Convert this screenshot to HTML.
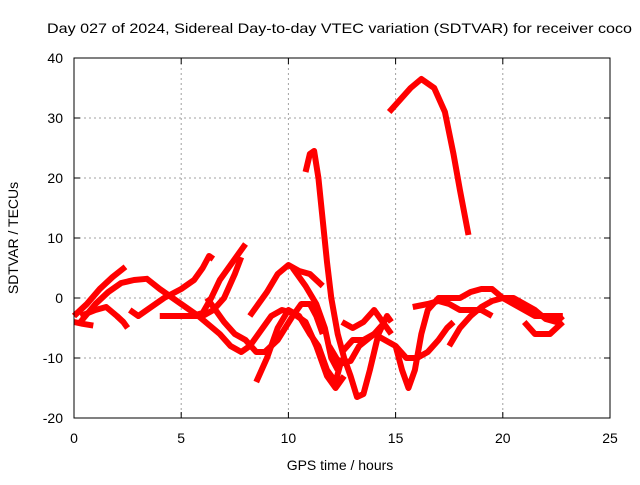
<!DOCTYPE html>
<html><head><meta charset="utf-8"><style>
body{margin:0;background:#fff;}
svg text{font-family:"Liberation Sans",sans-serif;font-size:14px;fill:#000;}
</style></head><body>
<svg id="chart" width="640" height="480">
<text x="47" y="33" textLength="585" lengthAdjust="spacingAndGlyphs">Day 027 of 2024, Sidereal Day-to-day VTEC variation (SDTVAR) for receiver coco</text>
<g id="grid"></g>
<g id="series"></g>
<rect x="74" y="58" width="536" height="360" fill="none" stroke="#000" stroke-width="1"/>
<g id="axes"></g>
<text x="340" y="470" text-anchor="middle">GPS time / hours</text>
<text transform="translate(18,238) rotate(-90)" text-anchor="middle">SDTVAR / TECUs</text>
</svg>
<script>
const xTicks=[0,5,10,15,20,25];
const yTicks=[-20,-10,0,10,20,30,40];
const track1=[[0,-3],[0.6,-1],[1.2,1.5],[1.8,3.5],[2.4,5.2]];
const track2=[[0.3,-4],[1,-1],[1.6,1],[2.2,2.5],[2.8,3],[3.4,3.2],[4,1.5],[4.6,0],[5.2,-1.5],[5.8,-3],[6.3,-4.5],[6.8,-6],[7.3,-8],[7.8,-9],[8.2,-8],[8.8,-5],[9.2,-3],[9.7,-2],[10.2,-2.5],[10.8,-4],[11.3,-8],[11.8,-13],[12.2,-15],[12.6,-13]];
const track3=[[0,-4],[0.4,-4.3],[0.9,-4.6]];
const track4=[[0.3,-3],[1,-2],[1.5,-1.5],[2,-3],[2.3,-4],[2.5,-5]];
const track5=[[2.6,-2],[3,-3],[3.6,-1.5],[4.2,0],[5,1.5],[5.6,3],[6,5],[6.3,7],[6.5,6.5]];
const track6=[[4,-3],[5,-3],[6,-3],[6.5,-2],[7,0],[7.5,4],[7.8,6.8]];
const track7=[[5.5,-3],[6,-2.5],[6.4,0],[6.8,3],[7.2,5],[7.6,7],[8,9]];
const track8=[[6.2,0],[6.5,-1.5],[7,-4],[7.5,-6],[8,-7],[8.5,-9],[8.9,-9],[9.5,-7],[10.2,-3],[10.6,-1],[11,-1],[11.3,-3],[11.6,-6]];
const track9=[[8.2,-3],[8.6,-1],[9,1],[9.5,4],[10,5.5],[10.5,4.5],[11,4],[11.6,2]];
const track10=[[10.2,5],[10.8,2],[11.3,-1],[11.7,-5],[12,-10],[12.3,-12]];
const track11=[[8.5,-14],[9,-10],[9.5,-5],[10,-2],[10.5,-3],[11,-6],[11.4,-8],[11.8,-12],[12.2,-14],[12.5,-10]];
const track12=[[10.8,21],[11,24],[11.2,24.5],[11.4,20],[11.6,13],[11.8,6],[12,0],[12.3,-6],[12.6,-10],[12.9,-13],[13.2,-16.5],[13.5,-16],[13.8,-12],[14.2,-6],[14.6,-3],[14.8,-4]];
const track13=[[14.7,31],[15.2,33],[15.7,35],[16.2,36.5],[16.8,35],[17.3,31],[17.7,24],[18,18],[18.4,10.5]];
const track14=[[12.5,-9],[13,-7],[13.5,-7],[14,-6],[14.5,-7],[15,-8],[15.3,-12],[15.6,-15],[15.9,-12],[16.2,-6],[16.5,-2],[17,0],[17.5,0],[18,0],[18.5,1],[19,1.5],[19.5,1.5],[20,0],[20.5,-1],[21,-2],[21.5,-3],[22,-3],[22.5,-3],[22.8,-3]];
const track15=[[15,-8],[15.5,-10],[16,-10],[16.5,-9],[17,-7],[17.4,-5],[17.7,-4]];
const track16=[[17.5,-8],[18,-5],[18.5,-3],[19,-1.5],[19.5,-0.5],[20,0],[20.5,0],[21,-1],[21.5,-2],[22,-3.5],[22.5,-4],[22.8,-3]];
const track17=[[15.8,-1.5],[16.5,-1],[17,-0.5],[17.5,-1],[18,-2],[18.5,-2],[19,-2],[19.5,-3]];
const track18=[[21,-4],[21.5,-6],[22.2,-6],[22.8,-4]];
const track19=[[12.5,-4],[13,-5],[13.5,-4],[14,-2],[14.4,-4],[14.8,-6]];
const track20=[[11.9,-8],[12.4,-11],[12.9,-10.5],[13.3,-8],[14,-6],[14.5,-4]];
const tracks=[track1,track2,track3,track4,track5,track6,track7,track8,track9,track10,track11,track12,track13,track14,track15,track16,track17,track18,track19,track20];
const NS="http://www.w3.org/2000/svg";
const X0=74,X1=610,Y0=418,Y1=58;
function xs(v){return X0+(v-0)/25*(X1-X0);}
function ys(v){return Y0-(v+20)/60*(Y0-Y1);}
const grid=document.getElementById('grid'),axes=document.getElementById('axes'),ser=document.getElementById('series');
xTicks.forEach(t=>{
  const x=xs(t);
  if(t>0&&t<25){const l=document.createElementNS(NS,'line');
  
  
  l.setAttribute('x1',x);l.setAttribute('x2',x);l.setAttribute('y1',Y1);l.setAttribute('y2',Y0);
  l.setAttribute('stroke','#a0a0a0');l.setAttribute('stroke-dasharray','2,3');grid.appendChild(l);}
  const tk=document.createElementNS(NS,'path');
  
  
  tk.setAttribute('d',`M${x},${Y0}v-6M${x},${Y1}v6`);tk.setAttribute('stroke','#000');axes.appendChild(tk);
  const tx=document.createElementNS(NS,'text');
  
  
  tx.setAttribute('x',x);tx.setAttribute('y',443);tx.setAttribute('text-anchor','middle');tx.textContent=t;axes.appendChild(tx);
});
yTicks.forEach(t=>{
  const y=ys(t);
  if(t>-20&&t<40){const l=document.createElementNS(NS,'line');
  
  
  l.setAttribute('x1',X0);l.setAttribute('x2',X1);l.setAttribute('y1',y);l.setAttribute('y2',y);
  l.setAttribute('stroke','#a0a0a0');l.setAttribute('stroke-dasharray','2,3');grid.appendChild(l);}
  const tk=document.createElementNS(NS,'path');
  
  
  tk.setAttribute('d',`M${X0},${y}h6M${X1},${y}h-6`);tk.setAttribute('stroke','#000');axes.appendChild(tk);
  const tx=document.createElementNS(NS,'text');
  
  
  tx.setAttribute('x',63);tx.setAttribute('y',y+5);tx.setAttribute('text-anchor','end');tx.textContent=t;axes.appendChild(tx);
});
tracks.forEach(tr=>{
  const p=document.createElementNS(NS,'polyline');
  
  
  p.setAttribute('points',tr.map(d=>xs(d[0])+','+ys(d[1])).join(' '));
  p.setAttribute('fill','none');p.setAttribute('stroke','#ff0000');p.setAttribute('stroke-width','6');
  p.setAttribute('stroke-linejoin','round');
  ser.appendChild(p);
});
</script>
</body></html>
